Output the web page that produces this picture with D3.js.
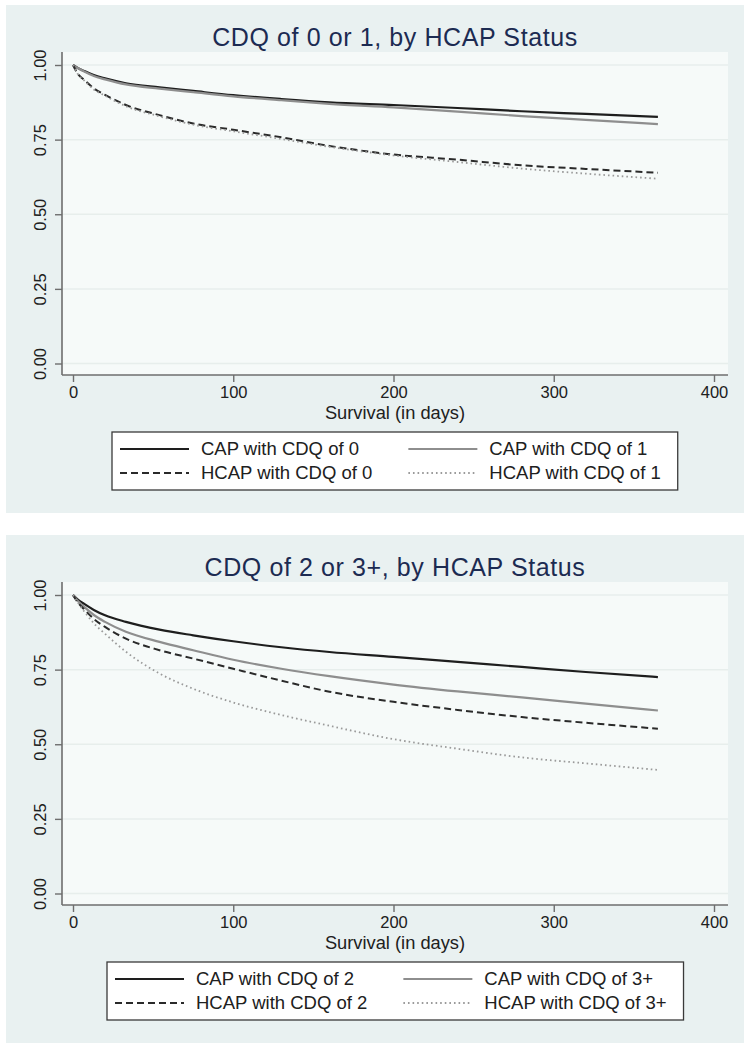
<!DOCTYPE html>
<html>
<head>
<meta charset="utf-8">
<script src="https://cdn.jsdelivr.net/npm/d3@7/dist/d3.min.js"></script>
<style>
  body { margin: 0; background: #ffffff; }
  svg { display: block; font-family: "Liberation Sans", Arial, sans-serif; }
</style>
</head>
<body>
<svg id="chart" width="749" height="1050"></svg>
<script>
// ---- data ----
const days = [0, 3, 7, 13, 20, 33, 54, 75, 100, 130, 160, 200, 240, 280, 320, 365];

// panel 1
const cap0  = [1, 0.990, 0.980, 0.966, 0.955, 0.939, 0.925, 0.913, 0.899, 0.886, 0.875, 0.866, 0.856, 0.845, 0.836, 0.826];
const cap1  = [1, 0.990, 0.978, 0.963, 0.952, 0.935, 0.921, 0.909, 0.895, 0.882, 0.870, 0.858, 0.844, 0.829, 0.816, 0.802];
const hcap0 = [1, 0.970, 0.950, 0.922, 0.900, 0.866, 0.832, 0.804, 0.783, 0.758, 0.729, 0.700, 0.683, 0.664, 0.652, 0.639];
const hcap1 = [1, 0.970, 0.948, 0.918, 0.897, 0.862, 0.828, 0.800, 0.778, 0.752, 0.726, 0.697, 0.675, 0.653, 0.636, 0.619];

// panel 2
const cap2  = [1, 0.985, 0.970, 0.950, 0.932, 0.910, 0.884, 0.865, 0.845, 0.825, 0.809, 0.793, 0.776, 0.759, 0.742, 0.725];
const cap3  = [1, 0.980, 0.960, 0.933, 0.910, 0.877, 0.843, 0.815, 0.783, 0.753, 0.728, 0.700, 0.677, 0.657, 0.636, 0.613];
const hcap2 = [1, 0.975, 0.952, 0.920, 0.893, 0.854, 0.815, 0.787, 0.753, 0.713, 0.676, 0.642, 0.615, 0.591, 0.572, 0.552];
const hcap3 = [1, 0.975, 0.945, 0.905, 0.870, 0.810, 0.737, 0.686, 0.640, 0.598, 0.562, 0.517, 0.485, 0.456, 0.436, 0.414];

const titles = ["CDQ of 0 or 1, by HCAP Status", "CDQ of 2 or 3+, by HCAP Status"];
const labels1 = ["CAP with CDQ of 0", "CAP with CDQ of 1", "HCAP with CDQ of 0", "HCAP with CDQ of 1"];
const labels2 = ["CAP with CDQ of 2", "CAP with CDQ of 3+", "HCAP with CDQ of 2", "HCAP with CDQ of 3+"];
const xTicks = [0, 100, 200, 300, 400];
const yTicks = [0, 0.25, 0.5, 0.75, 1];
const xLabel = "Survival (in days)";

// ---- styles per series: solid black, solid gray, dashed black, dotted gray ----
const STYLES = [
  { color: "#1e1e1e", width: 2.2, dash: null },
  { color: "#8e8e8e", width: 2.2, dash: null },
  { color: "#2a2a2a", width: 2, dash: "7,4" },
  { color: "#9a9a9a", width: 1.8, dash: "1.6,3" }
];

const svg = d3.select("#chart");

function drawPanel(top, title, seriesList, labels) {
  const g = svg.append("g").attr("transform", `translate(0,${top})`);

  // graph region
  g.append("rect")
    .attr("x", 6).attr("y", 0)
    .attr("width", 738).attr("height", 508)
    .attr("fill", "#e9f1f1");

  const plot = { left: 62, right: 728, top: 47, bottom: 370 };

  g.append("rect")
    .attr("x", plot.left).attr("y", plot.top)
    .attr("width", plot.right - plot.left).attr("height", plot.bottom - plot.top)
    .attr("fill", "#f6faf9");

  const x = d3.scaleLinear().domain([0, 400]).range([73, 714]);
  const y = d3.scaleLinear().domain([0, 1]).range([358.5, 60]);

  // gridlines
  g.selectAll("line.grid")
    .data(yTicks)
    .join("line")
    .attr("class", "grid")
    .attr("x1", plot.left).attr("x2", plot.right)
    .attr("y1", d => y(d)).attr("y2", d => y(d))
    .attr("stroke", "#e7eeec").attr("stroke-width", 1.5);

  // title
  g.append("text")
    .attr("x", 395).attr("y", 41)
    .attr("text-anchor", "middle")
    .attr("fill", "#1c2b52")
    .attr("font-size", 25)
    .attr("letter-spacing", 0.6)
    .text(title);

  // curves
  const line = d3.line()
    .x(d => x(d[0]))
    .y(d => y(d[1]))
    .curve(d3.curveMonotoneX);

  seriesList.forEach((vals, i) => {
    const st = STYLES[i];
    g.append("path")
      .datum(days.map((d, j) => [d, vals[j]]))
      .attr("fill", "none")
      .attr("stroke", st.color)
      .attr("stroke-width", st.width)
      .attr("stroke-dasharray", st.dash)
      .attr("d", line);
  });

  // y axis
  const yAxis = g.append("g")
    .attr("transform", `translate(${plot.left},0)`)
    .call(d3.axisLeft(y).tickValues(yTicks).tickFormat(d3.format(".2f")).tickSize(7).tickSizeOuter(0));
  yAxis.select(".domain").attr("d", `M0,${plot.top}V${plot.bottom}`);
  yAxis.selectAll("text")
    .attr("transform", "translate(-22,0) rotate(-90)")
    .attr("x", 0).attr("y", 0).attr("dy", "0.35em")
    .attr("text-anchor", "middle");

  // x axis
  const xAxis = g.append("g")
    .attr("transform", `translate(0,${plot.bottom})`)
    .call(d3.axisBottom(x).tickValues(xTicks).tickSize(7).tickSizeOuter(0));
  xAxis.select(".domain").attr("d", `M${plot.left},0H${plot.right}`);
  xAxis.selectAll("text").attr("y", 11);

  [yAxis, xAxis].forEach(a => {
    a.select(".domain").attr("stroke", "#6e6e6e").attr("stroke-width", 1.6);
    a.selectAll(".tick line").attr("stroke", "#6e6e6e").attr("stroke-width", 1.4);
    a.selectAll("text")
      .attr("fill", "#202020")
      .attr("font-size", 16.5)
      .attr("font-family", "Liberation Sans, Arial, sans-serif");
  });

  g.append("text")
    .attr("x", 395).attr("y", 414)
    .attr("text-anchor", "middle")
    .attr("fill", "#202020")
    .attr("font-size", 18.3)
    .text(xLabel);

  // legend
  const leg = g.append("g");
  const box = leg.append("rect")
    .attr("fill", "#ffffff")
    .attr("stroke", "#3a3a3a")
    .attr("stroke-width", 1.3);

  const rowY = [444, 468];
  const sampleLen = 69;
  const texts = labels.map((lab, i) => leg.append("text")
    .attr("font-size", 18.5)
    .attr("fill", "#202020")
    .attr("dy", "0.35em")
    .attr("y", rowY[Math.floor(i / 2)])
    .text(lab));

  const col1W = Math.max(texts[0].node().getComputedTextLength(), texts[2].node().getComputedTextLength());
  const col2W = Math.max(texts[1].node().getComputedTextLength(), texts[3].node().getComputedTextLength());
  const col1Sample = 8, col1Text = col1Sample + sampleLen + 12;
  const col2Sample = col1Text + col1W + 36, col2Text = col2Sample + sampleLen + 12;
  const boxW = col2Text + col2W + 17;
  const left = Math.round((plot.left + plot.right) / 2 - boxW / 2);

  box.attr("x", left).attr("y", 427).attr("width", boxW).attr("height", 58);

  labels.forEach((lab, i) => {
    const col = i % 2;
    const st = STYLES[i];
    const sx = left + (col === 0 ? col1Sample : col2Sample);
    leg.append("line")
      .attr("x1", sx).attr("x2", sx + sampleLen)
      .attr("y1", rowY[Math.floor(i / 2)]).attr("y2", rowY[Math.floor(i / 2)])
      .attr("stroke", st.color)
      .attr("stroke-width", st.width)
      .attr("stroke-dasharray", st.dash);
    texts[i].attr("x", left + (col === 0 ? col1Text : col2Text));
  });
}

drawPanel(5, titles[0], [cap0, cap1, hcap0, hcap1], labels1);
drawPanel(535, titles[1], [cap2, cap3, hcap2, hcap3], labels2);
</script>
</body>
</html>
